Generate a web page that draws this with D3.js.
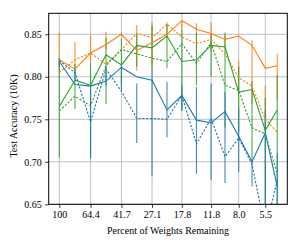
<!DOCTYPE html>
<html><head><meta charset="utf-8">
<script src="https://cdn.jsdelivr.net/npm/d3@7"></script>
<style>body{margin:0;background:#fff}svg{display:block}</style>
</head><body>
<script>
const pct = [100, 80.2, 64.4, 51.8, 41.7, 33.6, 27.1, 21.96, 17.8, 14.5, 11.8, 9.7, 8.0, 6.63, 5.5, 4.65];
const tickVals = [100, 64.4, 41.7, 27.1, 17.8, 11.8, 8.0, 5.5];
const tickLabels = ["100", "64.4", "41.7", "27.1", "17.8", "11.8", "8.0", "5.5"];
const yTicks = [0.65, 0.70, 0.75, 0.80, 0.85];

const orangeSolid = [0.820,0.809,0.828,0.838,0.850,0.831,0.840,0.850,0.866,0.856,0.851,0.844,0.848,0.837,0.810,0.813];
const orangeDash  = [0.805,0.820,0.828,0.815,0.832,0.851,0.846,0.862,0.847,0.839,0.844,0.827,0.799,0.789,0.750,0.735];
const greenSolid  = [0.765,0.796,0.790,0.826,0.814,0.837,0.834,0.848,0.818,0.820,0.837,0.835,0.782,0.785,0.737,0.761];
const greenDash   = [0.760,0.777,0.766,0.813,0.832,0.827,0.822,0.818,0.839,0.816,0.840,0.790,0.784,0.740,0.733,0.686];
const blueSolid   = [0.818,0.791,0.789,0.795,0.811,0.800,0.796,0.761,0.778,0.749,0.746,0.759,0.730,0.700,0.734,0.671];
const blueDash    = [0.819,0.805,0.747,0.809,0.783,0.751,0.751,0.750,0.778,0.721,0.751,0.706,0.728,0.697,0.620,0.678];

const orangeLo = [0.805,0.806,0.816,0.832,0.848,0.807,0.813,0.846,0.855,0.827,0.830,0.835,0.784,0.768,0.737,0.772];
const orangeHi = [0.852,0.841,0.848,0.853,0.852,0.861,0.864,0.864,0.866,0.863,0.864,0.850,0.819,0.843,0.790,0.827];
const greenLo  = [0.705,0.762,0.705,0.768,0.790,0.812,0.810,0.810,0.760,0.790,0.800,0.740,0.735,0.700,0.650,0.650];
const greenHi  = [0.820,0.815,0.816,0.846,0.845,0.850,0.860,0.862,0.855,0.852,0.850,0.852,0.812,0.795,0.775,0.802];
const blueLo   = [0.812,0.795,0.704,0.790,0.784,0.722,0.683,0.729,0.760,0.686,0.679,0.675,0.688,0.671,0.650,0.650];
const blueHi   = [0.822,0.810,0.790,0.812,0.812,0.792,0.810,0.794,0.790,0.788,0.792,0.782,0.764,0.702,0.760,0.710];

const W = 302, H = 245;
const L = 48.7, R = 287.3, T = 13.3, B = 204.3;
const svg = d3.select("body").append("svg").attr("width", W).attr("height", H);
const x = d3.scaleLog().domain([116.1, 4.035]).range([L, R]);
const y = d3.scaleLinear().domain([0.65, 0.8747]).range([B, T]);
const font = "'Liberation Serif','DejaVu Serif',serif";

svg.append("defs").append("clipPath").attr("id","clip").append("rect")
  .attr("x", L).attr("y", T).attr("width", R-L).attr("height", B-T);

// grid
const grid = svg.append("g");
grid.selectAll("line.vx").data(tickVals).enter().append("line")
  .attr("x1", d=>x(d)).attr("x2", d=>x(d)).attr("y1", T).attr("y2", B)
  .attr("stroke", "#b0b0b0").attr("stroke-width", 0.8);
grid.selectAll("line.hy").data(yTicks).enter().append("line")
  .attr("y1", d=>y(d)).attr("y2", d=>y(d)).attr("x1", L).attr("x2", R)
  .attr("stroke", "#b0b0b0").attr("stroke-width", 0.8);

const plot = svg.append("g").attr("clip-path", "url(#clip)");
const colors = {orange:"#ff7f0e", green:"#2ca02c", blue:"#1f77b4"};

function errBars(lo, hi, col){
  plot.append("g").selectAll("line").data(pct).enter().append("line")
    .attr("x1", d=>x(d)).attr("x2", d=>x(d))
    .attr("y1", (d,i)=>y(lo[i])).attr("y2", (d,i)=>y(hi[i]))
    .attr("stroke", col).attr("stroke-width", 1.1).attr("opacity", 0.85);
}
const line = vals => d3.line().x((d,i)=>x(pct[i])).y(d=>y(d))(vals);
function series(vals, col, dashed){
  plot.append("path").attr("d", line(vals)).attr("fill","none")
    .attr("stroke", col).attr("stroke-width", 1.1)
    .attr("stroke-dasharray", dashed ? "2.2,1.6" : null);
}
errBars(orangeLo, orangeHi, colors.orange);
errBars(greenLo, greenHi, colors.green);
errBars(blueLo, blueHi, colors.blue);
series(blueDash, colors.blue, true);
series(blueSolid, colors.blue, false);
series(orangeDash, colors.orange, true);
series(orangeSolid, colors.orange, false);
series(greenDash, colors.green, true);
series(greenSolid, colors.green, false);

// axes
const xAxis = d3.axisBottom(x).tickValues(tickVals).tickFormat((d,i)=>tickLabels[i]).tickSize(3.5).tickPadding(3);
const gx = svg.append("g").attr("transform", `translate(0,${B})`).call(xAxis);
const yAxis = d3.axisLeft(y).tickValues(yTicks).tickFormat(d3.format(".2f")).tickSize(3.5).tickPadding(3.5);
const gy = svg.append("g").attr("transform", `translate(${L},0)`).call(yAxis);
[gx, gy].forEach(g=>{
  g.select(".domain").remove();
  g.selectAll(".tick line").attr("stroke","#000").attr("stroke-width",0.8);
  g.selectAll(".tick text").attr("font-family", font).attr("font-size", 10).attr("fill","#000");
});
svg.append("rect").attr("x", L).attr("y", T).attr("width", R-L).attr("height", B-T)
  .attr("fill","none").attr("stroke","#000").attr("stroke-width",1);

svg.append("text").attr("x", (L+R)/2).attr("y", 233.5).attr("text-anchor","middle")
  .attr("font-family", font).attr("font-size", 10).text("Percent of Weights Remaining");
svg.append("text").attr("transform", "translate(16.5,116) rotate(-90)").attr("text-anchor","middle")
  .attr("font-family", font).attr("font-size", 10).text("Test Accuracy (10K)");
</script>
</body></html>
